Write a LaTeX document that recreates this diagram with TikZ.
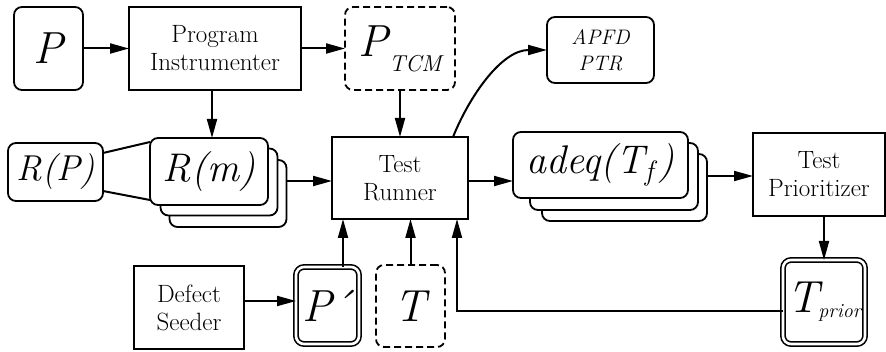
\documentclass[tikz,border=0pt]{standalone}
\usepackage{fontspec}
\usetikzlibrary{arrows.meta,calc}
\newcommand{\lbl}{\fontsize{25}{28}\selectfont}
\newcommand{\bigit}{\fontsize{40}{40}\selectfont\itshape}
\newcommand{\hugeit}{\fontsize{45}{45}\selectfont\itshape}
\newcommand{\subx}[3]{\raisebox{-#3}{\fontsize{#2}{#2}\selectfont\itshape #1}}
\begin{document}
\begin{tikzpicture}[x=1pt,y=-1pt,
  every node/.style={inner sep=0pt,outer sep=0pt,line width=1.8pt},
  proc/.style={draw,rectangle,align=center,font=\lbl},
  data/.style={draw,rectangle,rounded corners=8pt,align=center},
  dashbox/.style={data,dashed,dash pattern=on 7pt off 4pt},
  dbl/.style={data,double,double distance=2.6pt,line width=1.6pt},
  arr/.style={line width=2pt,-{Triangle[length=19pt,width=10pt]}},
  ln/.style={line width=2pt}]
\useasboundingbox (0,0) rectangle (886,352);
% top row
\node[data,minimum width=69pt,minimum height=83pt] (P) at (48.5,48.5) {\hugeit P};
\node[proc,minimum width=172pt,minimum height=83pt] (PI) at (215,48.5) {Program\\Instrumenter};
\node[dashbox,minimum width=110pt,minimum height=83pt] (PT) at (400,48.5) {\hugeit P\hspace{1pt}\subx{TCM}{23}{15pt}};
\node[data,minimum width=107pt,minimum height=66pt,align=center,font=\fontsize{21}{26}\selectfont\itshape] (AP) at (600.5,50) {APFD\\PTR};
% R stack
\node[data,fill=white,minimum width=117pt,minimum height=67pt] (Rm3) at (228,193.5) {};
\node[data,fill=white,minimum width=117pt,minimum height=67pt] (Rm2) at (219,182) {};
\node[data,fill=white,minimum width=118pt,minimum height=67pt] (Rm1) at (209,171.5) {\bigit R(m)};
\node[data,minimum width=95pt,minimum height=58pt] (RP) at (55.5,172) {\fontsize{36}{36}\selectfont\itshape R(P)};
% test runner
\node[proc,minimum width=136pt,minimum height=82pt] (TR) at (400,178) {Test\\Runner};
% adeq stack
\node[data,fill=white,minimum width=165pt,minimum height=67pt] (A3) at (624.5,187.5) {};
\node[data,fill=white,minimum width=168pt,minimum height=67pt] (A2) at (614,176.5) {};
\node[data,fill=white,minimum width=175pt,minimum height=66pt] (A1) at (600.5,165) {\bigit adeq(T\subx{f}{28}{7pt}\hspace{5pt})};
% prioritizer
\node[proc,minimum width=132pt,minimum height=83pt] (TP) at (819,174.5) {Test\\Prioritizer};
\node[dbl,minimum width=82pt,minimum height=84pt] (TPr) at (824,302) {\hugeit T\subx{prior}{20}{5pt}};
% bottom row
\node[proc,minimum width=110pt,minimum height=83pt] (DS) at (189,307.5) {Defect\\Seeder};
\node[dbl,minimum width=63pt,minimum height=77pt] (Pp) at (327.5,305.5) {\hugeit P\kern-2pt´};
\node[dashbox,minimum width=69pt,minimum height=82pt] (T) at (410.5,306) {\hugeit T};
% connectors
\draw[arr] (P) -- (PI);
\draw[arr] (PI) -- (PT);
\draw[arr] ([xshift=-3pt]PI.south) -- ([xshift=-3pt]PI.south |- Rm1.north);
\draw[arr] (PT.south) -- (TR.north);
\draw[arr] ([xshift=-15pt]TR.north east) to[out=68,in=180,looseness=0.9] (AP.west);
\draw[ln] ([yshift=-10pt]RP.north east) -- ([yshift=-4pt]Rm1.north west);
\draw[ln] ([yshift=10pt]RP.south east) -- ([yshift=5pt]Rm1.south west);
\draw[arr] (Rm3.east |- 0,181) -- (TR.west |- 0,181);
\draw[arr] (TR.east |- 0,181) -- (A1.west |- 0,181);
\draw[arr] (A3.east |- 0,176) -- (TP.west |- 0,176);
\draw[arr] (TP.south -| TPr.north) -- (TPr.north);
\draw[arr] ([yshift=-9pt]TPr.west) -| ([xshift=-11pt]TR.south east);
\draw[arr] (DS.east |- 0,301) -- (Pp.west |- 0,301);
\draw[arr] ([xshift=15.5pt]Pp.north) -- ([xshift=15.5pt]Pp.north |- TR.south);
\draw[arr] (T.north) -- (T.north |- TR.south);
\end{tikzpicture}
\end{document}
